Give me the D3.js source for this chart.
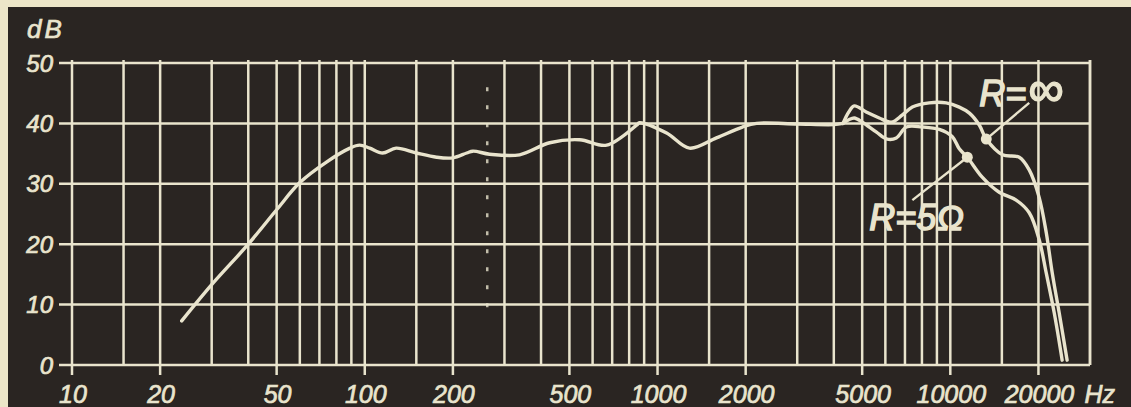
<!DOCTYPE html>
<html>
<head>
<meta charset="utf-8">
<script src="https://cdn.jsdelivr.net/npm/d3@7"></script>
<style>
  html, body { margin: 0; padding: 0; background: #ece6c8; }
  svg { display: block; }
</style>
</head>
<body>
<div id="chart"></div>
<script>

///////////////////////////////////////////////
// Data ///////////////////////////////////////
///////////////////////////////////////////////

// common part of both curves (Hz, dB)
var freqShared = [23.7, 30, 40, 50, 60, 74, 89, 96, 104, 115, 128, 150, 176, 200, 223, 234, 267, 338, 428, 542, 670, 848, 868, 1074, 1286, 1589, 1950, 2180, 3000, 4000, 4300];
var dbShared   = [7.3, 13.3, 20.0, 25.7, 30.2, 33.6, 35.9, 36.4, 35.9, 35.1, 35.9, 35.1, 34.4, 34.3, 35.1, 35.4, 34.9, 34.8, 36.8, 37.3, 36.4, 39.7, 40.1, 38.4, 35.9, 37.6, 39.4, 40.0, 39.9, 39.8, 40.0];

// R = infinity branch
var freqInf = [4300, 4500, 4700, 5160, 5720, 6290, 6860, 7420, 8470, 9680, 10730, 11620, 12570, 13270, 15070, 17200, 18600, 20100, 21270, 22300, 23550, 25060];
var dbInf   = [40.0, 41.9, 42.9, 41.9, 40.9, 40.2, 41.4, 42.7, 43.4, 43.4, 42.7, 41.7, 39.7, 37.4, 34.8, 34.4, 32.3, 27.8, 21.9, 15.2, 8.6, 0.8];

// R = 5 ohm branch
var freq5 = [4300, 4500, 4700, 5010, 5580, 6090, 6540, 7080, 8020, 9170, 10160, 10730, 11430, 12850, 14690, 16780, 18600, 20130, 21270, 22650, 24100];
var db5   = [40.0, 40.6, 40.9, 40.2, 38.6, 37.4, 37.6, 39.4, 39.4, 39.0, 37.8, 35.8, 34.4, 31.1, 28.6, 27.3, 25.2, 20.7, 15.2, 8.6, 0.8];

// axes
var xTickLabels = [10, 20, 50, 100, 200, 500, 1000, 2000, 5000, 10000, 20000];
var yTickLabels = [0, 10, 20, 30, 40, 50];
var gridSteps = [1, 1.5, 2, 3, 4, 5, 6, 7, 8, 9];
var gridDecades = [10, 100, 1000, 10000];

// annotations
var labelPrefix = ["R=", "R=5"];
var labelSymbol = ["\u221E", "\u03A9"];
var labelFreq = [12560, 5290];
var labelDb = [42.9, 22.4];
var pointerFreq = [18600, 7420];
var pointerDb = [43.4, 27.3];
var markerIndex = [13, 12];

///////////////////////////////////////////////
// Graph parameters ///////////////////////////
///////////////////////////////////////////////

var W = 1131, H = 407;
var board = "#2a2522", ink = "#e9e4cd";
var font = "'Liberation Sans', Arial, sans-serif";

var svg = d3.select("#chart").append("svg")
    .attr("width", W)
    .attr("height", H);

svg.append("rect")
    .attr("x", 8).attr("y", 7)
    .attr("width", W - 8).attr("height", H - 7)
    .attr("fill", board);

var x = d3.scaleLog()
    .domain([10, 30000])
    .range([72, 1090]);

var y = d3.scaleLinear()
    .domain([0, 50])
    .range([365, 63]);

///////////////////////////////////////////////
// Grid ///////////////////////////////////////
///////////////////////////////////////////////

var gridFreqs = [];
gridDecades.forEach(function(d) {
  gridSteps.forEach(function(s) {
    if (d * s <= 30000) gridFreqs.push(d * s);
  });
});
gridFreqs.push(30000);

var grid = svg.append("g").attr("class", "grid");

grid.selectAll(".hline")
    .data(yTickLabels)
    .enter().append("line")
    .attr("class", "hline")
    .attr("x1", x(10) - 13)
    .attr("x2", x(30000))
    .attr("y1", function(d) { return y(d); })
    .attr("y2", function(d) { return y(d); })
    .attr("stroke", ink)
    .attr("stroke-width", 2.5);

grid.selectAll(".vline")
    .data(gridFreqs)
    .enter().append("line")
    .attr("class", "vline")
    .attr("x1", function(d) { return x(d); })
    .attr("x2", function(d) { return x(d); })
    .attr("y1", y(50) - 3)
    .attr("y2", function(d) { return xTickLabels.indexOf(d) >= 0 ? y(0) + 10 : y(0); })
    .attr("stroke", ink)
    .attr("stroke-width", 2.5);

// dotted scratch on the original plate
grid.append("line")
    .attr("x1", x(262)).attr("x2", x(262))
    .attr("y1", y(46)).attr("y2", y(9))
    .attr("stroke", ink)
    .attr("stroke-width", 2.5)
    .attr("stroke-dasharray", "4,14")
    .attr("opacity", 0.8);

///////////////////////////////////////////////
// Axis labels ////////////////////////////////
///////////////////////////////////////////////

function inkText(sel, size) {
  sel.style("font", "italic " + size + "px " + font)
    .style("fill", ink)
    .style("stroke", ink)
    .style("stroke-width", 0.7);
}

svg.append("g").selectAll("text")
    .data(yTickLabels)
    .enter().append("text")
    .attr("x", 53)
    .attr("y", function(d) { return y(d); })
    .attr("dy", "0.36em")
    .attr("text-anchor", "end")
    .call(inkText, 24)
    .text(function(d) { return d; });

svg.append("text")
    .attr("x", 27)
    .attr("y", 38)
    .call(inkText, 26)
    .style("letter-spacing", "3px")
    .text("dB");

svg.append("g").selectAll("text")
    .data(xTickLabels)
    .enter().append("text")
    .attr("x", function(d) { return x(d) + 1; })
    .attr("y", 403)
    .attr("text-anchor", "middle")
    .call(inkText, 25)
    .text(function(d) { return d; });

svg.append("text")
    .attr("x", x(20000) + 46)
    .attr("y", 403)
    .call(inkText, 25)
    .text("Hz");

///////////////////////////////////////////////
// Curves /////////////////////////////////////
///////////////////////////////////////////////

function zipSeries(fs, ds) {
  return fs.map(function(f, i) { return { f: f, db: ds[i] }; });
}

var series = [
  zipSeries(freqShared, dbShared),
  zipSeries(freqInf, dbInf),
  zipSeries(freq5, db5)
];

var line = d3.line()
    .x(function(d) { return x(d.f); })
    .y(function(d) { return y(d.db); })
    .curve(d3.curveCatmullRom.alpha(0.5));

svg.append("g").selectAll("path")
    .data(series)
    .enter().append("path")
    .attr("d", line)
    .attr("fill", "none")
    .attr("stroke", ink)
    .attr("stroke-width", 3.4)
    .attr("stroke-linejoin", "round")
    .attr("stroke-linecap", "round");

///////////////////////////////////////////////
// Annotations ////////////////////////////////
///////////////////////////////////////////////

var branches = [series[1], series[2]];
var ann = svg.append("g").attr("class", "annotations");

branches.forEach(function(s, i) {
  var p = s[markerIndex[i]];
  ann.append("line")
      .attr("x1", x(p.f)).attr("y1", y(p.db))
      .attr("x2", x(pointerFreq[i])).attr("y2", y(pointerDb[i]))
      .attr("stroke", ink)
      .attr("stroke-width", 2.4);
  ann.append("circle")
      .attr("cx", x(p.f)).attr("cy", y(p.db))
      .attr("r", 5.5)
      .attr("fill", ink);
  var t = ann.append("text")
      .attr("x", x(labelFreq[i]))
      .attr("y", y(labelDb[i]))
      .call(inkText, 36)
      .style("stroke-width", 1.4);
  t.append("tspan").text(labelPrefix[i]);
  t.append("tspan")
      .style("font-size", i === 0 ? "50px" : "36px")
      .style("font-style", i === 0 ? "normal" : "italic")
      .attr("dx", i === 0 ? 2 : 0)
      .text(labelSymbol[i]);
});

</script>
</body>
</html>
